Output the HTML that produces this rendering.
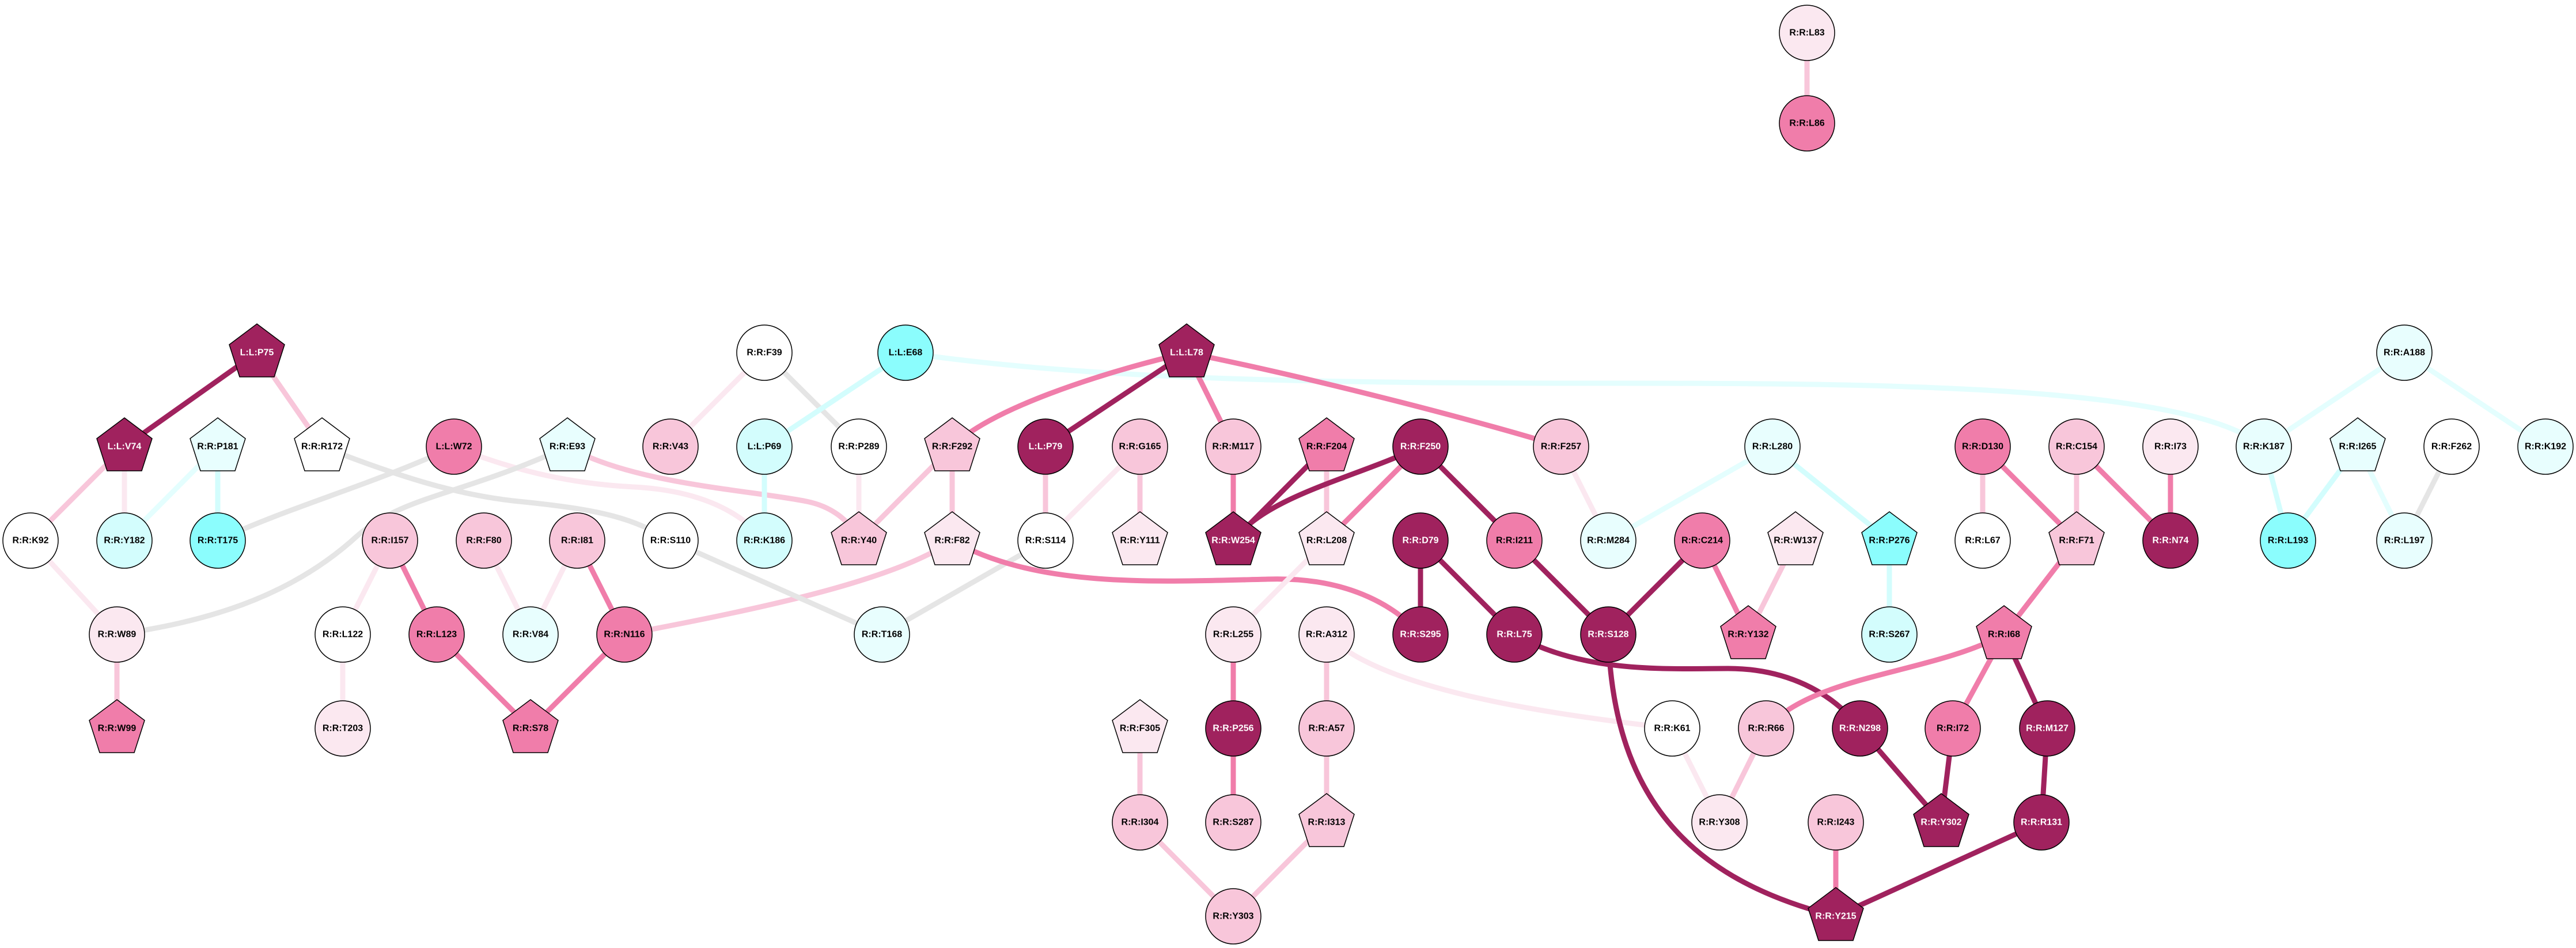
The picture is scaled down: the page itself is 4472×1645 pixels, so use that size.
<!DOCTYPE html>
<html><head><meta charset="utf-8"><style>
html,body{margin:0;padding:0;background:#fff;width:4472px;height:1645px;overflow:hidden}
svg{display:block}
text{font-family:"Liberation Sans",sans-serif;font-weight:bold;font-size:16px;text-anchor:middle;dominant-baseline:central;fill:#000}
text.w{fill:#fff}
circle,polygon{stroke:#000;stroke-width:1.5}
path,line{fill:none;stroke-width:9}
.D{stroke:#A0225E}.M{stroke:#F07DAA}.P{stroke:#F8C6DA}.V{stroke:#FBE8F0}.G{stroke:#E5E5E5}.C{stroke:#D3FDFD}.CV{stroke:#E4FEFE}
.fD{fill:#A0225E}.fM{fill:#F07DAA}.fP{fill:#F8C6DA}.fV{fill:#FBE8F0}.fW{fill:#fff}.fC1{fill:#E8FEFE}.fC2{fill:#D3FDFD}.fC3{fill:#8BFDFD}
</style></head><body>
<svg width="4472" height="1645" viewBox="0 0 4472 1645" xmlns="http://www.w3.org/2000/svg">
<defs><polygon id="pg" points="0,-50 48,-14 30,42 -30,42 -48,-14"/></defs>
<!-- edges -->
<line class="P" x1="3137" y1="57" x2="3137" y2="214"/>
<line class="D" x1="446" y1="612" x2="216" y2="775"/>
<line class="P" x1="446" y1="612" x2="559" y2="775"/>
<line class="P" x1="216" y1="775" x2="53" y2="938"/>
<line class="V" x1="216" y1="775" x2="216" y2="938"/>
<line class="CV" x1="378" y1="775" x2="216" y2="938"/>
<line class="C" x1="378" y1="775" x2="378" y2="938"/>
<path class="G" d="M559,775 C700,830 800,860 900,870 C1050,885 1100,900 1164,938"/>
<path class="G" d="M788,775 C650,840 500,880 378,938"/>
<path class="V" d="M788,775 C900,820 1000,840 1100,845 C1200,850 1280,880 1327,938"/>
<path class="P" d="M985,775 C1100,840 1300,850 1400,870 C1450,880 1480,910 1491,938"/>
<path class="G" d="M985,775 C800,860 700,860 620,930 C500,1040 350,1080 203,1101"/>
<line class="V" x1="53" y1="938" x2="203" y2="1101"/>
<line class="P" x1="203" y1="1101" x2="203" y2="1264"/>
<line class="V" x1="677" y1="938" x2="595" y2="1101"/>
<line class="M" x1="677" y1="938" x2="758" y2="1101"/>
<line class="V" x1="840" y1="938" x2="921" y2="1101"/>
<line class="V" x1="1002" y1="938" x2="921" y2="1101"/>
<line class="M" x1="1002" y1="938" x2="1084" y2="1101"/>
<line class="V" x1="595" y1="1101" x2="595" y2="1264"/>
<line class="M" x1="758" y1="1101" x2="921" y2="1264"/>
<line class="M" x1="1084" y1="1101" x2="921" y2="1264"/>
<path class="P" d="M1084,1101 C1300,1060 1550,1010 1653,938"/>
<line class="G" x1="1164" y1="938" x2="1531" y2="1101"/>
<line class="G" x1="1815" y1="938" x2="1531" y2="1101"/>
<line class="V" x1="1327" y1="612" x2="1164" y2="775"/>
<line class="G" x1="1327" y1="612" x2="1491" y2="775"/>
<line class="C" x1="1572" y1="612" x2="1327" y2="775"/>
<path class="CV" d="M1572,612 C1900,660 2300,665 2800,665 C3300,665 3800,670 3930,775"/>
<line class="C" x1="1327" y1="775" x2="1327" y2="938"/>
<line class="V" x1="1491" y1="775" x2="1491" y2="938"/>
<line class="P" x1="1653" y1="775" x2="1491" y2="938"/>
<line class="P" x1="1653" y1="775" x2="1653" y2="938"/>
<path class="M" d="M2060,612 C1900,650 1720,710 1653,775"/>
<line class="D" x1="2060" y1="612" x2="1815" y2="775"/>
<line class="M" x1="2060" y1="612" x2="2141" y2="775"/>
<path class="M" d="M2060,612 C2300,660 2600,740 2710,775"/>
<line class="P" x1="1815" y1="775" x2="1815" y2="938"/>
<line class="V" x1="1979" y1="775" x2="1815" y2="938"/>
<line class="P" x1="1979" y1="775" x2="1979" y2="938"/>
<line class="M" x1="2141" y1="775" x2="2141" y2="938"/>
<line class="D" x1="2303" y1="775" x2="2141" y2="938"/>
<line class="P" x1="2303" y1="775" x2="2303" y2="938"/>
<path class="D" d="M2466,775 C2350,830 2200,860 2141,938"/>
<line class="M" x1="2466" y1="775" x2="2303" y2="938"/>
<line class="D" x1="2466" y1="775" x2="2629" y2="938"/>
<path class="M" d="M1653,938 C1800,1020 2000,1010 2200,1005 C2350,1000 2430,1060 2466,1101"/>
<line class="V" x1="2303" y1="938" x2="2141" y2="1101"/>
<line class="M" x1="2141" y1="1101" x2="2141" y2="1264"/>
<line class="M" x1="2141" y1="1264" x2="2141" y2="1427"/>
<line class="P" x1="2303" y1="1101" x2="2303" y2="1264"/>
<path class="V" d="M2303,1101 C2400,1200 2700,1240 2903,1264"/>
<line class="P" x1="2303" y1="1264" x2="2303" y2="1427"/>
<line class="P" x1="1979" y1="1264" x2="1979" y2="1427"/>
<line class="P" x1="1979" y1="1427" x2="2141" y2="1590"/>
<line class="P" x1="2303" y1="1427" x2="2141" y2="1590"/>
<line class="V" x1="2710" y1="775" x2="2792" y2="938"/>
<line class="CV" x1="3077" y1="775" x2="2792" y2="938"/>
<line class="C" x1="3077" y1="775" x2="3280" y2="938"/>
<line class="D" x1="2466" y1="938" x2="2466" y2="1101"/>
<line class="D" x1="2466" y1="938" x2="2629" y2="1101"/>
<line class="D" x1="2629" y1="938" x2="2792" y2="1101"/>
<line class="D" x1="2955" y1="938" x2="2792" y2="1101"/>
<line class="M" x1="2955" y1="938" x2="3035" y2="1101"/>
<line class="P" x1="3117" y1="938" x2="3035" y2="1101"/>
<line class="C" x1="3280" y1="938" x2="3280" y2="1101"/>
<path class="D" d="M2629,1101 C2750,1170 2900,1160 3000,1160 C3100,1160 3180,1200 3229,1264"/>
<path class="D" d="M2792,1101 C2800,1400 2950,1530 3187,1590"/>
<line class="V" x1="2903" y1="1264" x2="2985" y2="1427"/>
<line class="P" x1="3066" y1="1264" x2="2985" y2="1427"/>
<path class="M" d="M3066,1264 C3150,1170 3350,1170 3479,1101"/>
<line class="D" x1="3229" y1="1264" x2="3370" y2="1427"/>
<line class="M" x1="3187" y1="1427" x2="3187" y2="1590"/>
<line class="D" x1="3544" y1="1427" x2="3187" y2="1590"/>
<line class="D" x1="3390" y1="1264" x2="3370" y2="1427"/>
<line class="M" x1="3479" y1="1101" x2="3390" y2="1264"/>
<line class="D" x1="3479" y1="1101" x2="3554" y2="1264"/>
<line class="D" x1="3554" y1="1264" x2="3544" y2="1427"/>
<line class="M" x1="3605" y1="938" x2="3479" y2="1101"/>
<line class="P" x1="3442" y1="775" x2="3442" y2="938"/>
<line class="M" x1="3442" y1="775" x2="3605" y2="938"/>
<line class="P" x1="3605" y1="775" x2="3605" y2="938"/>
<line class="M" x1="3605" y1="775" x2="3768" y2="938"/>
<line class="M" x1="3768" y1="775" x2="3768" y2="938"/>
<line class="CV" x1="4174" y1="612" x2="3930" y2="775"/>
<line class="CV" x1="4174" y1="612" x2="4419" y2="775"/>
<line class="C" x1="3930" y1="775" x2="3972" y2="938"/>
<line class="C" x1="4093" y1="775" x2="3972" y2="938"/>
<line class="CV" x1="4093" y1="775" x2="4174" y2="938"/>
<line class="G" x1="4256" y1="775" x2="4174" y2="938"/>
<!-- nodes -->
<circle class="fV" cx="3137" cy="57" r="48"/><text x="3137" y="57">R:R:L83</text>
<circle class="fM" cx="3137" cy="214" r="48"/><text x="3137" y="214">R:R:L86</text>
<use href="#pg" class="fD" x="446" y="612" style="stroke:#000"/><text class="w" x="446" y="612">L:L:P75</text>
<use href="#pg" class="fD" x="216" y="775"/><text class="w" x="216" y="775">L:L:V74</text>
<use href="#pg" class="fC1" x="378" y="775"/><text x="378" y="775">R:R:P181</text>
<use href="#pg" class="fW" x="559" y="775"/><text x="559" y="775">R:R:R172</text>
<circle class="fM" cx="788" cy="775" r="48"/><text x="788" y="775">L:L:W72</text>
<use href="#pg" class="fC1" x="985" y="775"/><text x="985" y="775">R:R:E93</text>
<circle class="fP" cx="1164" cy="775" r="48"/><text x="1164" y="775">R:R:V43</text>
<circle class="fW" cx="53" cy="938" r="48"/><text x="53" y="938">R:R:K92</text>
<circle class="fC2" cx="216" cy="938" r="48"/><text x="216" y="938">R:R:Y182</text>
<circle class="fC3" cx="378" cy="938" r="48"/><text x="378" y="938">R:R:T175</text>
<circle class="fP" cx="677" cy="938" r="48"/><text x="677" y="938">R:R:I157</text>
<circle class="fP" cx="840" cy="938" r="48"/><text x="840" y="938">R:R:F80</text>
<circle class="fP" cx="1002" cy="938" r="48"/><text x="1002" y="938">R:R:I81</text>
<circle class="fW" cx="1164" cy="938" r="48"/><text x="1164" y="938">R:R:S110</text>
<circle class="fV" cx="203" cy="1101" r="48"/><text x="203" y="1101">R:R:W89</text>
<circle class="fW" cx="595" cy="1101" r="48"/><text x="595" y="1101">R:R:L122</text>
<circle class="fM" cx="758" cy="1101" r="48"/><text x="758" y="1101">R:R:L123</text>
<circle class="fC1" cx="921" cy="1101" r="48"/><text x="921" y="1101">R:R:V84</text>
<circle class="fM" cx="1084" cy="1101" r="48"/><text x="1084" y="1101">R:R:N116</text>
<use href="#pg" class="fM" x="203" y="1264"/><text x="203" y="1264">R:R:W99</text>
<circle class="fV" cx="595" cy="1264" r="48"/><text x="595" y="1264">R:R:T203</text>
<use href="#pg" class="fM" x="921" y="1264"/><text x="921" y="1264">R:R:S78</text>
<circle class="fW" cx="1327" cy="612" r="48"/><text x="1327" y="612">R:R:F39</text>
<circle class="fC3" cx="1572" cy="612" r="48"/><text x="1572" y="612">L:L:E68</text>
<use href="#pg" class="fD" x="2060" y="612"/><text class="w" x="2060" y="612">L:L:L78</text>
<circle class="fC2" cx="1327" cy="775" r="48"/><text x="1327" y="775">L:L:P69</text>
<circle class="fW" cx="1491" cy="775" r="48"/><text x="1491" y="775">R:R:P289</text>
<use href="#pg" class="fP" x="1653" y="775"/><text x="1653" y="775">R:R:F292</text>
<circle class="fD" cx="1815" cy="775" r="48"/><text class="w" x="1815" y="775">L:L:P79</text>
<circle class="fP" cx="1979" cy="775" r="48"/><text x="1979" y="775">R:R:G165</text>
<circle class="fP" cx="2141" cy="775" r="48"/><text x="2141" y="775">R:R:M117</text>
<use href="#pg" class="fM" x="2303" y="775"/><text x="2303" y="775">R:R:F204</text>
<circle class="fC2" cx="1327" cy="938" r="48"/><text x="1327" y="938">R:R:K186</text>
<use href="#pg" class="fP" x="1491" y="938"/><text x="1491" y="938">R:R:Y40</text>
<use href="#pg" class="fV" x="1653" y="938"/><text x="1653" y="938">R:R:F82</text>
<circle class="fW" cx="1815" cy="938" r="48"/><text x="1815" y="938">R:R:S114</text>
<use href="#pg" class="fV" x="1979" y="938"/><text x="1979" y="938">R:R:Y111</text>
<use href="#pg" class="fD" x="2141" y="938"/><text class="w" x="2141" y="938">R:R:W254</text>
<use href="#pg" class="fV" x="2303" y="938"/><text x="2303" y="938">R:R:L208</text>
<circle class="fC1" cx="1531" cy="1101" r="48"/><text x="1531" y="1101">R:R:T168</text>
<circle class="fV" cx="2141" cy="1101" r="48"/><text x="2141" y="1101">R:R:L255</text>
<circle class="fV" cx="2303" cy="1101" r="48"/><text x="2303" y="1101">R:R:A312</text>
<use href="#pg" class="fV" x="1979" y="1264"/><text x="1979" y="1264">R:R:F305</text>
<circle class="fD" cx="2141" cy="1264" r="48"/><text class="w" x="2141" y="1264">R:R:P256</text>
<circle class="fP" cx="2303" cy="1264" r="48"/><text x="2303" y="1264">R:R:A57</text>
<circle class="fP" cx="1979" cy="1427" r="48"/><text x="1979" y="1427">R:R:I304</text>
<circle class="fP" cx="2141" cy="1427" r="48"/><text x="2141" y="1427">R:R:S287</text>
<use href="#pg" class="fP" x="2303" y="1427"/><text x="2303" y="1427">R:R:I313</text>
<circle class="fP" cx="2141" cy="1590" r="48"/><text x="2141" y="1590">R:R:Y303</text>
<circle class="fD" cx="2466" cy="775" r="48"/><text class="w" x="2466" y="775">R:R:F250</text>
<circle class="fP" cx="2710" cy="775" r="48"/><text x="2710" y="775">R:R:F257</text>
<circle class="fC1" cx="3077" cy="775" r="48"/><text x="3077" y="775">R:R:L280</text>
<circle class="fD" cx="2466" cy="938" r="48"/><text class="w" x="2466" y="938">R:R:D79</text>
<circle class="fM" cx="2629" cy="938" r="48"/><text x="2629" y="938">R:R:I211</text>
<circle class="fC1" cx="2792" cy="938" r="48"/><text x="2792" y="938">R:R:M284</text>
<circle class="fM" cx="2955" cy="938" r="48"/><text x="2955" y="938">R:R:C214</text>
<use href="#pg" class="fV" x="3117" y="938"/><text x="3117" y="938">R:R:W137</text>
<use href="#pg" class="fC3" x="3280" y="938"/><text x="3280" y="938">R:R:P276</text>
<circle class="fD" cx="2466" cy="1101" r="48"/><text class="w" x="2466" y="1101">R:R:S295</text>
<circle class="fD" cx="2629" cy="1101" r="48"/><text class="w" x="2629" y="1101">R:R:L75</text>
<circle class="fD" cx="2792" cy="1101" r="48"/><text class="w" x="2792" y="1101">R:R:S128</text>
<use href="#pg" class="fM" x="3035" y="1101"/><text x="3035" y="1101">R:R:Y132</text>
<circle class="fC2" cx="3280" cy="1101" r="48"/><text x="3280" y="1101">R:R:S267</text>
<circle class="fW" cx="2903" cy="1264" r="48"/><text x="2903" y="1264">R:R:K61</text>
<circle class="fP" cx="3066" cy="1264" r="48"/><text x="3066" y="1264">R:R:R66</text>
<circle class="fD" cx="3229" cy="1264" r="48"/><text class="w" x="3229" y="1264">R:R:N298</text>
<circle class="fV" cx="2985" cy="1427" r="48"/><text x="2985" y="1427">R:R:Y308</text>
<circle class="fP" cx="3187" cy="1427" r="48"/><text x="3187" y="1427">R:R:I243</text>
<use href="#pg" class="fD" x="3370" y="1427"/><text class="w" x="3370" y="1427">R:R:Y302</text>
<use href="#pg" class="fD" x="3187" y="1590"/><text class="w" x="3187" y="1590">R:R:Y215</text>
<circle class="fC1" cx="4174" cy="612" r="48"/><text x="4174" y="612">R:R:A188</text>
<circle class="fM" cx="3442" cy="775" r="48"/><text x="3442" y="775">R:R:D130</text>
<circle class="fP" cx="3605" cy="775" r="48"/><text x="3605" y="775">R:R:C154</text>
<circle class="fV" cx="3768" cy="775" r="48"/><text x="3768" y="775">R:R:I73</text>
<circle class="fC1" cx="3930" cy="775" r="48"/><text x="3930" y="775">R:R:K187</text>
<use href="#pg" class="fC1" x="4093" y="775"/><text x="4093" y="775">R:R:I265</text>
<circle class="fW" cx="4256" cy="775" r="48"/><text x="4256" y="775">R:R:F262</text>
<circle class="fC1" cx="4419" cy="775" r="48"/><text x="4419" y="775">R:R:K192</text>
<circle class="fW" cx="3442" cy="938" r="48"/><text x="3442" y="938">R:R:L67</text>
<use href="#pg" class="fP" x="3605" y="938"/><text x="3605" y="938">R:R:F71</text>
<circle class="fD" cx="3768" cy="938" r="48"/><text class="w" x="3768" y="938">R:R:N74</text>
<circle class="fC3" cx="3972" cy="938" r="48"/><text x="3972" y="938">R:R:L193</text>
<circle class="fC1" cx="4174" cy="938" r="48"/><text x="4174" y="938">R:R:L197</text>
<use href="#pg" class="fM" x="3479" y="1101"/><text x="3479" y="1101">R:R:I68</text>
<circle class="fM" cx="3390" cy="1264" r="48"/><text x="3390" y="1264">R:R:I72</text>
<circle class="fD" cx="3554" cy="1264" r="48"/><text class="w" x="3554" y="1264">R:R:M127</text>
<circle class="fD" cx="3544" cy="1427" r="48"/><text class="w" x="3544" y="1427">R:R:R131</text>
</svg>
</body></html>
